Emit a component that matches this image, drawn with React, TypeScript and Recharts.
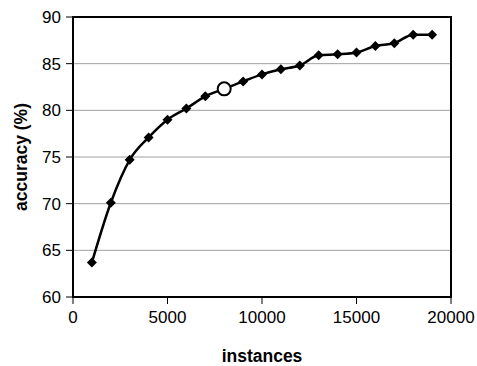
import React from 'react';
import { LineChart, Line, XAxis, YAxis, CartesianGrid, ReferenceArea, Label } from 'recharts';

const instances = [1000, 2000, 3000, 4000, 5000, 6000, 7000, 8000, 9000, 10000, 11000, 12000, 13000, 14000, 15000, 16000, 17000, 18000, 19000];
const accuracy = [63.7, 70.1, 74.7, 77.1, 79.0, 80.2, 81.5, 82.3, 83.1, 83.85, 84.4, 84.8, 85.9, 86.0, 86.2, 86.9, 87.2, 88.1, 88.1];
const highlighted = 8000;

const xTicks = [0, 5000, 10000, 15000, 20000];
const yTicks = [60, 65, 70, 75, 80, 85, 90];

const data = instances.map((n, i) => ({ instances: n, accuracy: accuracy[i] }));

const font = '"Liberation Sans", Arial, sans-serif';

const Marker = (props: any) => {
  const { cx, cy, payload, index } = props;
  if (payload.instances === highlighted) {
    return <circle key={index} cx={cx} cy={cy} r={6.5} fill="#fff" stroke="#000" strokeWidth={2} />;
  }
  const s = 5;
  return (
    <polygon
      key={index}
      points={`${cx},${cy - s} ${cx + s},${cy} ${cx},${cy + s} ${cx - s},${cy}`}
      fill="#000"
    />
  );
};

const YTitle = (props: any) => {
  const { viewBox } = props;
  const x = viewBox.x + 21;
  const y = viewBox.y + viewBox.height / 2;
  return (
    <text
      x={x}
      y={y}
      transform={`rotate(-90, ${x}, ${y})`}
      textAnchor="middle"
      dominantBaseline="central"
      fontFamily={font}
      fontSize={17.5}
      fontWeight="bold"
      fill="#000"
    >
      accuracy (%)
    </text>
  );
};

export default function App() {
  return (
    <div style={{ position: 'absolute', left: 0, top: 0, width: 477, height: 366, background: '#fff' }}>
      <LineChart width={477} height={366} data={data} margin={{ top: 17, right: 26, bottom: 0, left: 0 }}>
        <CartesianGrid horizontal vertical={false} stroke="#a0a0a0" />
        <XAxis
          dataKey="instances"
          type="number"
          domain={[0, 20000]}
          ticks={xTicks}
          height={69}
          tickSize={7}
          tickMargin={7}
          stroke="#000"
          axisLine={{ stroke: '#000', strokeWidth: 2 }}
          tick={{ fill: '#000', fontSize: 17, fontFamily: font }}
        >
          <Label
            value="instances"
            position="insideBottom"
            offset={4}
            style={{ fill: '#000', fontSize: 17.5, fontWeight: 'bold', fontFamily: font }}
          />
        </XAxis>
        <YAxis
          type="number"
          domain={[60, 90]}
          ticks={yTicks}
          width={73}
          tickSize={7}
          tickMargin={5}
          stroke="#000"
          axisLine={{ stroke: '#000', strokeWidth: 2 }}
          tick={{ fill: '#000', fontSize: 17, fontFamily: font }}
        >
          <Label content={<YTitle />} />
        </YAxis>
        <ReferenceArea x1={0} x2={20000} y1={60} y2={90} fill="none" stroke="#000" strokeWidth={2} />
        <Line
          type="monotone"
          dataKey="accuracy"
          stroke="#000"
          strokeWidth={2.5}
          dot={<Marker />}
          activeDot={false}
          isAnimationActive={false}
        />
      </LineChart>
    </div>
  );
}
